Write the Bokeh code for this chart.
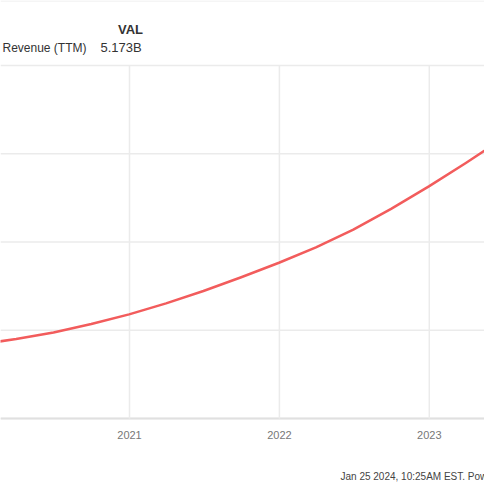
import pandas as pd
from bokeh.plotting import figure
from bokeh.models import Range1d
from bokeh.core.properties import value
from bokeh.embed import file_html
from bokeh.resources import INLINE

# ---- data ----
dates = ["2019-12-31", "2020-03-31", "2020-06-30", "2020-09-30", "2020-12-31",
         "2021-03-31", "2021-06-30", "2021-09-30", "2021-12-31",
         "2022-03-31", "2022-06-30", "2022-09-30", "2022-12-31",
         "2023-03-31", "2023-06-30"]
revenue_b = [2.84, 2.90, 2.975, 3.07, 3.18,
             3.305, 3.445, 3.60, 3.765,
             3.94, 4.14, 4.375, 4.63,
             4.895, 5.173]
ticker_name = "VAL"
metric_name = "Revenue (TTM)"
last_value = "5.173B"
y_grid = [2, 3, 4, 5, 6]
x_tick_years = [2021, 2022, 2023]
x_tick_labels = ["2021", "2022", "2023"]
footer = "Jan 25 2024, 10:25AM EST.  Powered by YCHARTS"

W, H = 484, 484
FONT = "Liberation Sans"

# pixel geometry of the chart area (from the top-left of the figure)
PX_2021 = 129.0      # pixel of Jan 1 2021
PX_PER_YEAR = 150.0
PY_TOP = 65.0        # pixel of the top grid line (6)
PY_BOT = 418.0       # pixel of the bottom grid line (2)
ms_year = 365.25 * 86400000.0
t2021 = pd.Timestamp("2021-01-01").value / 1e6

def dx(px):
    return t2021 + (px - PX_2021) / PX_PER_YEAR * ms_year

def dy(py):
    return y_grid[-1] - (py - PY_TOP) / (PY_BOT - PY_TOP) * (y_grid[-1] - y_grid[0])

p = figure(width=W, height=H, output_backend="svg", toolbar_location=None,
           x_axis_location=None, y_axis_location=None,
           x_range=Range1d(dx(0), dx(W)), y_range=Range1d(dy(H), dy(0)),
           min_border=0)
p.outline_line_color = None
p.background_fill_color = "white"
p.border_fill_color = "white"
p.grid.visible = False

xd = [pd.Timestamp(d).value / 1e6 for d in dates]
tick_x = [pd.Timestamp(f"{y}-01-01").value / 1e6 for y in x_tick_years]

# grid lines
p.segment(x0=[dx(0)] * len(y_grid), x1=[dx(W)] * len(y_grid),
          y0=y_grid, y1=y_grid, line_color="#ebebeb", line_width=1.5)
p.segment(x0=[dx(0)], x1=[dx(W)], y0=[y_grid[0]], y1=[y_grid[0]],
          line_color="#e0e0e0", line_width=2)
p.segment(x0=tick_x, x1=tick_x, y0=[y_grid[0]] * len(tick_x),
          y1=[y_grid[-1]] * len(tick_x), line_color="#ebebeb", line_width=1.5)
p.segment(x0=[dx(0)], x1=[dx(W)], y0=[dy(0.5)], y1=[dy(0.5)],
          line_color="#ececec", line_width=1)

# series
p.line(xd, revenue_b, line_color="#f25c5c", line_width=2.5, line_join="round")

# x tick labels
p.text(x=tick_x, y=[dy(434)] * len(tick_x), text=x_tick_labels,
       text_font=value(FONT), text_font_size="11px", text_color="#777777",
       text_align="center", text_baseline="middle")

# header
p.text(x=[dx(130)], y=[dy(29)], text=[ticker_name], text_font=value(FONT),
       text_font_size="13px", text_font_style="bold", text_color="#333333",
       text_align="center", text_baseline="middle")
p.text(x=[dx(86)], y=[dy(47)], text=[metric_name], text_font=value(FONT),
       text_font_size="12px", text_color="#333333",
       text_align="right", text_baseline="middle")
p.text(x=[dx(100)], y=[dy(47)], text=[last_value], text_font=value(FONT),
       text_font_size="13px", text_color="#333333",
       text_align="left", text_baseline="middle")

# footer
p.text(x=[dx(340)], y=[dy(476)], text=[footer], text_font=value(FONT),
       text_font_size="10px", text_color="#444444",
       text_align="left", text_baseline="middle")

open("out.html", "w").write(file_html(p, INLINE))
